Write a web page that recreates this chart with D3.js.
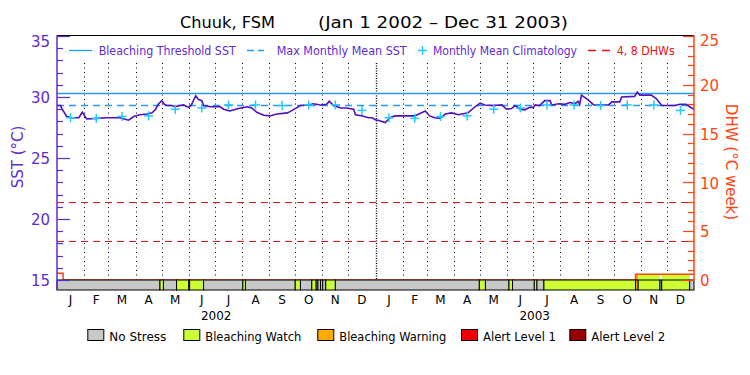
<!DOCTYPE html>
<html>
<head>
<meta charset="utf-8">
<script src="https://cdn.jsdelivr.net/npm/d3@7"></script>
<style>
  body { margin: 0; background: #fff; }
  text { font-family: "DejaVu Sans", sans-serif; }
</style>
</head>
<body>
<div id="chart"></div>
<script>

// ---- data (day 0 = Jan 1 2002) ----
var sstDays = [0,4,6,11,17,25,29,34,46,57,72,82,88,95,103,109,113,116,120,123,126,132,135,141,145,151,154,159,162,166,168,176,187,191,198,208,218,223,229,237,244,252,264,267,273,279,288,294,302,309,312,317,325,332,340,342,350,357,361,366,368,376,382,387,399,410,422,427,433,439,445,452,460,471,479,485,490,500,510,515,521,525,531,536,542,546,548,553,559,565,567,575,582,588,594,597,599,601,609,615,632,636,645,647,662,665,668,681,687,693,708,714,721,725,730];
var sstValues = [29.3,29.3,29.0,28.4,28.3,28.3,28.75,28.2,28.25,28.3,28.3,28.1,28.4,28.55,28.6,28.7,29.0,29.4,29.7,29.4,29.3,29.3,29.2,29.3,29.35,29.15,29.35,30.1,29.8,29.7,29.3,29.2,29.2,29.0,28.85,29.05,29.2,29.1,28.75,28.5,28.45,28.6,28.7,28.8,29.05,29.3,29.35,29.45,29.35,29.4,29.65,29.3,29.1,29.1,29.0,28.55,28.45,28.3,28.3,28.1,28.1,27.9,28.3,28.45,28.45,28.45,28.85,28.45,28.3,28.25,28.6,28.7,28.55,28.7,29.2,29.5,29.35,29.3,29.35,29.0,29.05,29.3,29.0,28.95,29.15,29.15,29.35,29.3,29.7,29.7,29.35,29.45,29.4,29.55,29.45,29.65,29.4,30.15,29.75,29.35,29.35,29.6,29.6,30.0,30.05,30.4,30.15,30.15,29.85,29.3,29.3,29.4,29.4,29.2,29.0];

var monthLabels = ["J","F","M","A","M","J","J","A","S","O","N","D"];
var yearLabels = ["2002", "2003"];
var climValues = [28.3,28.25,28.4,28.45,29.0,29.1,29.35,29.35,29.3,29.35,29.35,28.9];

var mmm = 29.33;
var threshold = 30.33;
var dhwLevels = [4, 8];

var dhwDays = [0, 7, 663, 730];
var dhwValues = [0.7, 0, 0.6, 0.6];

// stress segments: start day, end day, level index
var stressStart = [0,118,122,137,151,152,168,213,216,273,279,292,297,299,302,304.5,308,319,484,491,518,522,547,550,558,663,666,691,693,725];
var stressEnd   = [118,122,137,151,152,168,213,216,273,279,292,297,299,302,304.5,308,319,484,491,518,522,547,550,558,663,666,691,693,725,730];
var stressLevel = [0,1,0,1,0,1,0,1,0,1,0,1,0,0,0,0,1,0,1,0,1,0,1,0,1,2,1,0,1,0];

var stressNames = ["No Stress", "Bleaching Watch", "Bleaching Warning", "Alert Level 1", "Alert Level 2"];
var stressColors = ["#c8c8c8", "#ccff33", "#ffaa00", "#ee0000", "#990000"];

// ---- layout ----
var W = 750, H = 375;
var left = 57, right = 694, plotTop = 36, plotBottom = 280, barBottom = 290;

var purple = "#5f2bd0", lineColor = "#5010c0", blue = "#1e9bff", cyan = "#22c8ff", red = "#ee1111", orange = "#ff4411";

var svg = d3.select("#chart").append("svg")
  .attr("width", W)
  .attr("height", H);

var t0 = new Date(Date.UTC(2002, 0, 1)), t1 = new Date(Date.UTC(2004, 0, 1));
var x = d3.scaleUtc().domain([t0, t1]).range([left, right]);
function xd(day) { return x(d3.utcDay.offset(t0, 0).getTime() + day * 864e5); }

var ySST = d3.scaleLinear().domain([15, 35]).range([plotBottom, plotTop]);
var yDHW = d3.scaleLinear().domain([0, 25]).range([plotBottom, plotTop]);

// title
svg.append("text").attr("x", 180).attr("y", 28).attr("font-size", 16).attr("fill", "#000")
  .attr("textLength", 95).attr("lengthAdjust", "spacingAndGlyphs").text("Chuuk, FSM");
svg.append("text").attr("x", 318).attr("y", 28).attr("font-size", 16).attr("fill", "#000")
  .attr("textLength", 250).attr("lengthAdjust", "spacingAndGlyphs").text("(Jan 1 2002 \u2013 Dec 31 2003)");

// top frame
svg.append("line").attr("x1", left).attr("x2", right).attr("y1", 35.5).attr("y2", 35.5)
  .attr("stroke", "#000");

// month grid (dotted)
var monthStarts = d3.utcMonths(d3.utcMonth.offset(t0, 1), t1);
svg.selectAll(".grid").data(monthStarts).enter().append("line")
  .attr("x1", function(d) { return Math.round(x(d)) + 0.5; })
  .attr("x2", function(d) { return Math.round(x(d)) + 0.5; })
  .attr("y1", 63).attr("y2", plotBottom)
  .attr("stroke", "#000")
  .attr("stroke-width", function(d) { return d.getUTCMonth() == 0 ? 1.4 : 1; })
  .attr("stroke-dasharray", function(d) { return d.getUTCMonth() == 0 ? "1,1.5" : "1,3.5"; });

// DHW reference lines
svg.selectAll(".dhwref").data(dhwLevels).enter().append("line")
  .attr("x1", left).attr("x2", right)
  .attr("y1", function(d) { return Math.round(yDHW(d)) + 0.5; })
  .attr("y2", function(d) { return Math.round(yDHW(d)) + 0.5; })
  .attr("stroke", red).attr("stroke-dasharray", "7,5");

// threshold + MMM
svg.append("line").attr("x1", left).attr("x2", right)
  .attr("y1", Math.round(ySST(threshold)) + 0.5).attr("y2", Math.round(ySST(threshold)) + 0.5)
  .attr("stroke", blue).attr("stroke-width", 1.3);
svg.append("line").attr("x1", left).attr("x2", right)
  .attr("y1", Math.round(ySST(mmm)) + 0.5).attr("y2", Math.round(ySST(mmm)) + 0.5)
  .attr("stroke", blue).attr("stroke-width", 1.3).attr("stroke-dasharray", "7,5");

// DHW area filled with stress colour
var dhwPts = dhwDays.map(function(d, i) { return [d, dhwValues[i]]; });
var dhwArea = d3.area().curve(d3.curveStepAfter)
  .x(function(d) { return xd(d[0]); })
  .y0(yDHW(0)).y1(function(d) { return yDHW(d[1]); });
svg.append("clipPath").attr("id", "dhwclip").append("path").attr("d", dhwArea(dhwPts));
var stressIdx = d3.range(stressStart.length);
svg.append("g").attr("clip-path", "url(#dhwclip)")
  .selectAll("rect").data(stressIdx.filter(function(i) { return stressLevel[i] > 0; }))
  .enter().append("rect")
    .attr("x", function(i) { return xd(stressStart[i]); })
    .attr("width", function(i) { return xd(stressEnd[i]) - xd(stressStart[i]); })
    .attr("y", yDHW(1)).attr("height", yDHW(0) - yDHW(1))
    .attr("fill", function(i) { return stressColors[stressLevel[i]]; });

var dhwLine = d3.line().curve(d3.curveStepAfter)
  .x(function(d) { return xd(d[0]); })
  .y(function(d) { return yDHW(d[1]); });
svg.append("path").attr("d", dhwLine(dhwPts))
  .attr("fill", "none").attr("stroke", orange).attr("stroke-width", 1.5);

// SST line
var sstPts = sstDays.map(function(d, i) { return [d, sstValues[i]]; });
var sstLine = d3.line()
  .x(function(d) { return xd(d[0]); })
  .y(function(d) { return ySST(d[1]); });
svg.append("path").attr("d", sstLine(sstPts))
  .attr("fill", "none").attr("stroke", lineColor).attr("stroke-width", 1.6);

// climatology crosses (mid-month both years)
var climPts = [];
d3.utcMonths(t0, t1).forEach(function(m) {
  var mid = new Date((m.getTime() + d3.utcMonth.offset(m, 1).getTime()) / 2);
  climPts.push([mid, climValues[m.getUTCMonth()]]);
});
var crosses = svg.selectAll(".clim").data(climPts).enter().append("g")
  .attr("transform", function(d) { return "translate(" + x(d[0]) + "," + ySST(d[1]) + ")"; });
crosses.append("line").attr("x1", -4.5).attr("x2", 4.5).attr("stroke", cyan).attr("stroke-width", 1.5);
crosses.append("line").attr("y1", -4.5).attr("y2", 4.5).attr("stroke", cyan).attr("stroke-width", 1.5);

// stress bar
svg.selectAll(".stress").data(stressIdx).enter().append("rect")
  .attr("x", function(i) { return xd(stressStart[i]); })
  .attr("width", function(i) { return xd(stressEnd[i]) - xd(stressStart[i]); })
  .attr("y", plotBottom).attr("height", barBottom - plotBottom)
  .attr("fill", function(i) { return stressColors[stressLevel[i]]; })
  .attr("stroke", "#000").attr("stroke-width", 1);

// left axis
svg.append("line").attr("x1", left).attr("x2", left).attr("y1", 35).attr("y2", barBottom)
  .attr("stroke", purple).attr("stroke-width", 1.5);
svg.selectAll(".lt").data(d3.range(15, 36)).enter().append("line")
  .attr("x1", left).attr("x2", function(d) { return d % 5 == 0 ? left + 13 : left + 6; })
  .attr("y1", function(d) { return Math.round(ySST(d)) + 0.5; })
  .attr("y2", function(d) { return Math.round(ySST(d)) + 0.5; })
  .attr("stroke", purple).attr("stroke-width", 1.2);
svg.selectAll(".ll").data([15, 20, 25, 30, 35]).enter().append("text")
  .attr("x", 50).attr("y", function(d) { return Math.max(ySST(d), 40.5) + 1; })
  .attr("dy", "0.35em").attr("text-anchor", "end").attr("font-size", 15).attr("fill", purple)
  .text(function(d) { return d; });
svg.append("text").attr("transform", "translate(23,157) rotate(-90)")
  .attr("text-anchor", "middle").attr("font-size", 15).attr("fill", purple).text("SST (\u00b0C)");

// right axis
svg.append("line").attr("x1", right).attr("x2", right).attr("y1", 35).attr("y2", plotBottom)
  .attr("stroke", orange).attr("stroke-width", 1.5);
svg.selectAll(".rt").data(d3.range(0, 26)).enter().append("line")
  .attr("x1", right).attr("x2", function(d) { return d % 5 == 0 ? right - 11 : right - 6; })
  .attr("y1", function(d) { return Math.round(yDHW(d)) + 0.5; })
  .attr("y2", function(d) { return Math.round(yDHW(d)) + 0.5; })
  .attr("stroke", orange).attr("stroke-width", 1.2);
svg.selectAll(".rl").data([0, 5, 10, 15, 20, 25]).enter().append("text")
  .attr("x", 700).attr("y", function(d) { return Math.max(yDHW(d), 40) + 1; })
  .attr("dy", "0.35em").attr("font-size", 15).attr("fill", orange)
  .text(function(d) { return d; });
svg.append("text").attr("transform", "translate(726,162) rotate(90)")
  .attr("text-anchor", "middle").attr("font-size", 15).attr("fill", orange).text("DHW (\u00b0C week)");

// month and year labels
var months = d3.utcMonths(t0, t1);
svg.selectAll(".ml").data(months).enter().append("text")
  .attr("x", function(d) { return (x(d) + x(d3.utcMonth.offset(d, 1))) / 2; })
  .attr("y", 303.5).attr("text-anchor", "middle").attr("font-size", 12).attr("fill", "#000")
  .text(function(d) { return monthLabels[d.getUTCMonth()]; });
svg.selectAll(".yl").data(yearLabels).enter().append("text")
  .attr("x", function(d, i) { return (x(d3.utcYear.offset(t0, i)) + x(d3.utcYear.offset(t0, i + 1))) / 2; })
  .attr("y", 320).attr("text-anchor", "middle").attr("font-size", 12).attr("fill", "#000")
  .text(function(d) { return d; });

// top legend
var ly = 50.5;
svg.append("line").attr("x1", 69).attr("x2", 92).attr("y1", ly).attr("y2", ly).attr("stroke", blue).attr("stroke-width", 1.3);
svg.append("text").attr("x", 98.7).attr("y", 55).attr("font-size", 12).attr("fill", purple)
  .attr("textLength", 137).attr("lengthAdjust", "spacingAndGlyphs").text("Bleaching Threshold SST");
svg.append("line").attr("x1", 247).attr("x2", 264).attr("y1", ly).attr("y2", ly).attr("stroke", blue)
  .attr("stroke-width", 1.3).attr("stroke-dasharray", "7,4");
svg.append("text").attr("x", 276.7).attr("y", 55).attr("font-size", 12).attr("fill", purple)
  .attr("textLength", 130).attr("lengthAdjust", "spacingAndGlyphs").text("Max Monthly Mean SST");
svg.append("line").attr("x1", 418).attr("x2", 427).attr("y1", ly).attr("y2", ly).attr("stroke", cyan).attr("stroke-width", 1.5);
svg.append("line").attr("x1", 422.5).attr("x2", 422.5).attr("y1", ly - 4.5).attr("y2", ly + 4.5).attr("stroke", cyan).attr("stroke-width", 1.5);
svg.append("text").attr("x", 433).attr("y", 55).attr("font-size", 12).attr("fill", purple)
  .attr("textLength", 144).attr("lengthAdjust", "spacingAndGlyphs").text("Monthly Mean Climatology");
svg.append("line").attr("x1", 588).attr("x2", 611).attr("y1", ly).attr("y2", ly).attr("stroke", red)
  .attr("stroke-width", 1.3).attr("stroke-dasharray", "8,6");
svg.append("text").attr("x", 616.7).attr("y", 55).attr("font-size", 12).attr("fill", red)
  .attr("textLength", 58).attr("lengthAdjust", "spacingAndGlyphs").text("4, 8 DHWs");

// bottom legend
var legX = [87.3, 183.3, 317.3, 461, 569.3];
var legW = [57, 96, 107, 73, 74];
var leg = svg.selectAll(".leg").data(stressNames).enter().append("g");
leg.append("rect")
  .attr("x", function(d, i) { return legX[i] + 0.5; }).attr("y", 329.5)
  .attr("width", 16).attr("height", 11)
  .attr("fill", function(d, i) { return stressColors[i]; }).attr("stroke", "#000");
leg.append("text")
  .attr("x", function(d, i) { return legX[i] + 22; }).attr("y", 340.5)
  .attr("font-size", 12).attr("fill", "#000")
  .attr("textLength", function(d, i) { return legW[i]; }).attr("lengthAdjust", "spacingAndGlyphs")
  .text(function(d) { return d; });

</script>
</body>
</html>
